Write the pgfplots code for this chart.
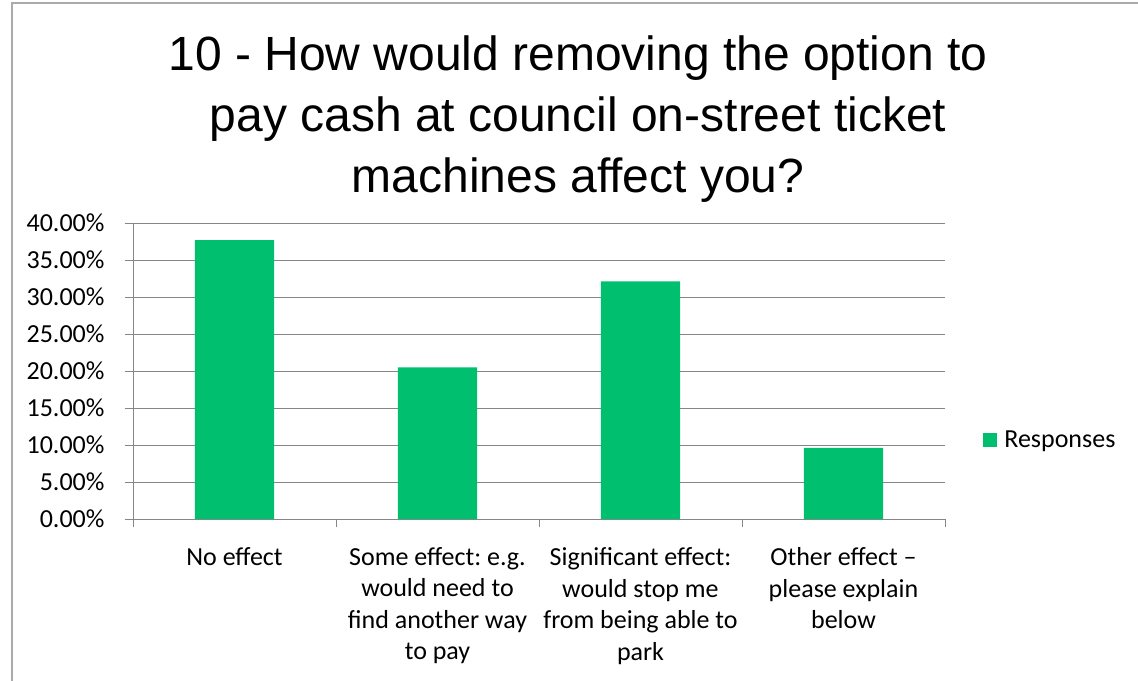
\documentclass[border=0pt]{standalone}
\usepackage{fontspec}
\setmainfont{Carlito}
\newfontfamily\arial{Liberation Sans}
\usepackage{pgfplots}
\pgfplotsset{compat=1.18}
\definecolor{bargreen}{RGB}{0,192,111}
\definecolor{gridgray}{RGB}{134,134,134}
\definecolor{framegray}{RGB}{170,170,170}
\frenchspacing

\newcommand{\lbl}{\fontsize{26bp}{31.5bp}\selectfont}

\begin{document}
\begin{tikzpicture}
\useasboundingbox (0bp,0bp) rectangle (1138bp,-681bp);
% chart frame
\draw[framegray, line width=1.5bp] (12bp,-681bp) -- (12bp,-3bp) -- (1138bp,-3bp);
% title
\begin{scope}[every node/.style={anchor=base, inner sep=0pt, font=\arial\fontsize{48bp}{55bp}\selectfont}]
\node at (578bp,-70bp) {10 - How would removing the option to};
\node at (578bp,-131bp) {pay cash at council on-street ticket};
\node at (578bp,-192bp) {machines affect you?};
\end{scope}

\begin{axis}[
  at={(133bp,-519bp)}, anchor=south west,
  scale only axis, width=812bp, height=296bp,
  xmin=-0.5, xmax=3.5, ymin=0, ymax=40,
  axis x line*=bottom, axis y line*=left,
  axis line style={-, gridgray, line width=1bp},
  ytick={0,5,...,40},
  ymajorgrids, grid style={gridgray, line width=1bp},
  tick align=outside, major tick length=8bp,
  tick style={gridgray, line width=1bp},
  /pgf/number format/assume math mode=true,
  tick label style={font=\lbl},
  yticklabel={\pgfmathprintnumber[fixed,fixed zerofill,precision=2]{\tick}\%},
  yticklabel style={xshift=-17bp},
  xtick={-0.5,0.5,1.5,2.5,3.5},
  xticklabels={{},{},{},{},{}},
  extra x ticks={0,1,2,3},
  extra x tick labels={No effect,
    {Some effect: e.g.\\would need to\\find another way\\to pay},
    {Significant effect:\\would stop me\\from being able to\\park},
    {Other effect --\\please explain\\below}},
  extra x tick style={major tick length=0pt, grid=none,
    xticklabel style={align=center, font=\lbl, yshift=-25bp}},
  legend style={at={(rel axis cs:1.047,0.267)}, anchor=west, draw=none,
    fill=none, font=\lbl, inner sep=0pt,
    /tikz/every odd column/.append style={column sep=5bp}},
  legend image code/.code={\fill[bargreen] (0bp,-7bp) rectangle (14bp,7bp);},
]
\addplot[ybar, fill=bargreen, draw=none, bar width=0.39]
  coordinates {(0,37.7) (1,20.5) (2,32.1) (3,9.6)};
\addlegendentry{Responses}
\end{axis}
\end{tikzpicture}
\end{document}
